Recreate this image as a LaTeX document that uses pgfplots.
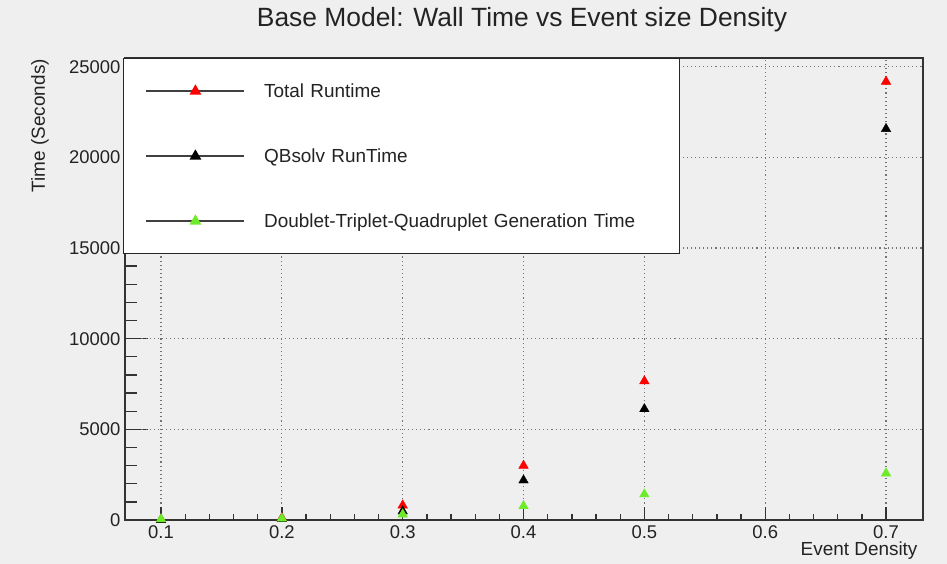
\documentclass[border=0pt]{standalone}
\usepackage{pgfplots}
\pgfplotsset{compat=1.18}
\usepackage{fontspec}
\setmainfont{Liberation Sans}
\definecolor{bg}{RGB}{239,239,239}
\definecolor{rootgreen}{RGB}{110,235,40}
\definecolor{txt}{RGB}{35,35,35}

\pgfplotsset{
  frame geometry/.style={
    at={(125bp,44bp)}, anchor=south west,
    width=798bp, height=462bp, scale only axis,
    xmin=0.0702, xmax=0.7306, ymin=0, ymax=25480,
  },
}

\begin{document}
\begin{tikzpicture}[x=1bp,y=1bp]
\fill[bg] (0,0) rectangle (947,564);
\useasboundingbox (0,0) rectangle (947,564);

% longer tick marks along the y axis (drawn first, so the legend covers them)
\begin{axis}[
  frame geometry,
  hide x axis, axis y line*=left,
  ytick={0,5000,10000,15000,20000,25000},
  minor y tick num=4,
  yticklabels={}, scaled y ticks=false,
  tick align=inside,
  major tick length=23bp, minor tick length=12bp,
  tick style={line width=1.3bp, black!80},
  axis line style={line width=1.6bp, black!80, -},
]
\end{axis}

\begin{axis}[
  frame geometry,
  xtick={0.1,0.2,0.3,0.4,0.5,0.6,0.7},
  ytick={0,5000,10000,15000,20000,25000},
  minor x tick num=4,
  tick pos=left, tick align=inside,
  major tick length=13bp, minor tick length=6bp,
  tick style={line width=1.3bp, black!80},
  axis line style={line width=1.6bp, black!80},
  grid=major,
  major grid style={line width=1.1bp, gray!90!black, dash pattern=on 1.1bp off 3bp},
  scaled y ticks=false,
  /pgf/number format/assume math mode=true,
  /pgf/number format/1000 sep={},
  xticklabel style={/pgf/number format/fixed, /pgf/number format/precision=1,
    /pgf/number format/fixed zerofill},
  ticklabel style={font=\fontsize{18.5}{20}\selectfont, text=txt},
  xticklabel style={yshift=-2bp},
  yticklabel style={xshift=-1bp},
  clip=false,
  legend cell align=left,
  legend style={at={(0,1)}, anchor=north west, xshift=-2bp,
    draw=black!85, line width=1.3bp, fill=white,
    inner xsep=22bp, inner ysep=0bp, column sep=19bp,
    font=\fontsize{19}{22}\selectfont, text=txt,
    nodes={inner sep=0bp, minimum height=65bp, text width=393bp, align=left}},
  legend image code/.code={
    \draw[line width=1.5bp, black!75] (0bp,0bp) -- (98bp,0bp);
    \draw[#1, only marks, mark=triangle*] plot coordinates {(49bp,0bp)};
  },
]
% total wall time
\addplot[only marks, mark=triangle*, mark size=5.5bp, color=red]
  coordinates {(0.1,30) (0.2,120) (0.3,810) (0.4,3000) (0.5,7660) (0.7,24180)};
\addlegendentry{Total Runtime}
% solver time
\addplot[only marks, mark=triangle*, mark size=5.5bp, color=black]
  coordinates {(0.1,10) (0.2,60) (0.3,480) (0.4,2190) (0.5,6120) (0.7,21570)};
\addlegendentry{QBsolv RunTime}
% seed generation time
\addplot[only marks, mark=triangle*, mark size=5.5bp, color=rootgreen]
  coordinates {(0.1,50) (0.2,90) (0.3,314) (0.4,770) (0.5,1420) (0.7,2575)};
\addlegendentry{Doublet-Triplet-Quadruplet Generation Time}
\end{axis}

\node[font=\fontsize{26.5}{30}\selectfont, text=txt] at (522,544) {Base Model: Wall Time vs Event size Density};
\node[font=\fontsize{19}{22}\selectfont, text=txt, rotate=90, anchor=south east, inner sep=0pt] at (49,505) {Time (Seconds)};
\node[font=\fontsize{19}{22}\selectfont, text=txt, anchor=east] at (921,13) {Event Density};
\end{tikzpicture}
\end{document}
